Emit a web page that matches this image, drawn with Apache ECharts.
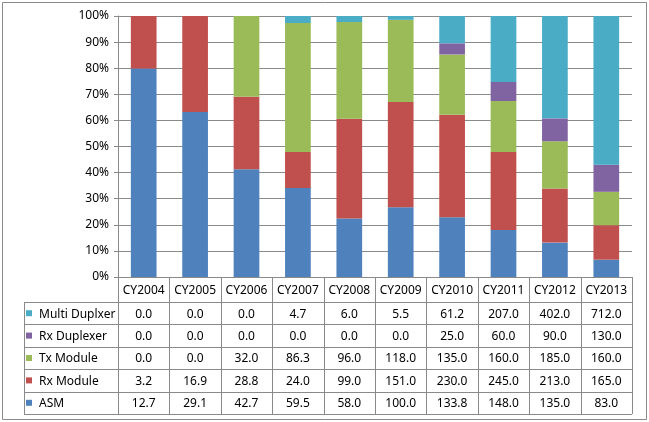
<!DOCTYPE html>
<html><head><meta charset="utf-8">
<script src="https://cdn.jsdelivr.net/npm/echarts@6/dist/echarts.min.js"></script>
<style>html,body{margin:0;padding:0;background:#fff}#c{width:649px;height:422px}</style>
</head><body><div id="c"></div>
<script>
const categories = ['CY2004','CY2005','CY2006','CY2007','CY2008','CY2009','CY2010','CY2011','CY2012','CY2013'];
const asm          = [12.7, 29.1, 42.7, 59.5, 58.0, 100.0, 133.8, 148.0, 135.0, 83.0];
const rxModule     = [3.2, 16.9, 28.8, 24.0, 99.0, 151.0, 230.0, 245.0, 213.0, 165.0];
const txModule     = [0.0, 0.0, 32.0, 86.3, 96.0, 118.0, 135.0, 160.0, 185.0, 160.0];
const rxDuplexer   = [0.0, 0.0, 0.0, 0.0, 0.0, 0.0, 25.0, 60.0, 90.0, 130.0];
const multiDuplxer = [0.0, 0.0, 0.0, 4.7, 6.0, 5.5, 61.2, 207.0, 402.0, 712.0];
const seriesNames  = ['ASM', 'Rx Module', 'Tx Module', 'Rx Duplexer', 'Multi Duplxer'];
const seriesColors = ['#4F81BD', '#C0504D', '#9BBB59', '#8064A2', '#4BACC6'];

const seriesData = [asm, rxModule, txModule, rxDuplexer, multiDuplxer];
const totals = categories.map((_, i) => seriesData.reduce((s, arr) => s + arr[i], 0));
const pct = arr => arr.map((v, i) => totals[i] ? v / totals[i] * 100 : 0);

const chart = echarts.init(document.getElementById('c'), null, {renderer: 'canvas'});
const FONT = '"Noto Sans", "DejaVu Sans", sans-serif';

chart.setOption({
  animation: false,
  grid: {left: 118, right: 17, top: 16, bottom: 145, containLabel: false},
  xAxis: {
    type: 'category', data: categories,
    axisLine: {show: true, lineStyle: {color: '#8a8a8a'}},
    axisTick: {show: false}, axisLabel: {show: false}
  },
  yAxis: {
    type: 'value', min: 0, max: 100, interval: 10,
    axisLine: {show: true, lineStyle: {color: '#8a8a8a'}},
    axisTick: {show: true, length: 4, lineStyle: {color: '#8a8a8a'}},
    axisLabel: {formatter: '{value}%', color: '#000', fontSize: 12, fontFamily: FONT, margin: 9},
    splitLine: {lineStyle: {color: '#8a8a8a'}}
  },
  series: seriesData.map((arr, k) => ({
    name: seriesNames[k], type: 'bar', stack: 'total', barWidth: '50%',
    data: pct(arr), itemStyle: {color: seriesColors[k]}
  }))
});

// Build the data table below the plot from the axis positions
const c0 = chart.convertToPixel({xAxisIndex: 0}, 0);
const c1 = chart.convertToPixel({xAxisIndex: 0}, 1);
const cw = c1 - c0;
const left = c0 - cw / 2;
const right = left + cw * categories.length;
const y0 = chart.convertToPixel({yAxisIndex: 0}, 0);
const headerH = 25, rowH = 22.4, legendLeft = 24;
const rowsOrder = [4, 3, 2, 1, 0];
const lineColor = '#8a8a8a';
const g = [];
const tableBottom = y0 + headerH + rowH * rowsOrder.length;
for (let i = 0; i <= categories.length; i++) {
  const x = Math.round(left + cw * i) + 0.5;
  g.push({type: 'line', shape: {x1: x, y1: y0, x2: x, y2: tableBottom}, style: {stroke: lineColor, lineWidth: 1}, silent: true});
}
g.push({type: 'line', shape: {x1: legendLeft + 0.5, y1: y0 + headerH, x2: legendLeft + 0.5, y2: tableBottom}, style: {stroke: lineColor, lineWidth: 1}});
for (let r = 0; r <= rowsOrder.length; r++) {
  const y = Math.round(y0 + headerH + rowH * r) + 0.5;
  g.push({type: 'line', shape: {x1: legendLeft, y1: y, x2: right, y2: y}, style: {stroke: lineColor, lineWidth: 1}});
}
categories.forEach((cat, i) => {
  g.push({type: 'text', x: left + cw * (i + 0.5), y: y0 + headerH / 2 + 1,
    style: {text: cat, fill: '#000', font: '12px ' + FONT, align: 'center', verticalAlign: 'middle'}});
});
rowsOrder.forEach((k, r) => {
  const yc = y0 + headerH + rowH * (r + 0.5) + 1;
  g.push({type: 'rect', shape: {x: legendLeft + 2, y: yc - 4, width: 6, height: 6}, style: {fill: seriesColors[k]}});
  g.push({type: 'text', x: legendLeft + 15, y: yc,
    style: {text: seriesNames[k], fill: '#000', font: '12px ' + FONT, align: 'left', verticalAlign: 'middle'}});
  seriesData[k].forEach((v, i) => {
    g.push({type: 'text', x: left + cw * (i + 0.5), y: yc,
      style: {text: v.toFixed(1), fill: '#000', font: '12px ' + FONT, align: 'center', verticalAlign: 'middle'}});
  });
});
g.push({type: 'rect', shape: {x: 2.5, y: 2.5, width: 644, height: 417}, style: {fill: 'none', stroke: '#8a8a8a', lineWidth: 1}, z: -1});
chart.setOption({graphic: {elements: g}});
</script></body></html>
